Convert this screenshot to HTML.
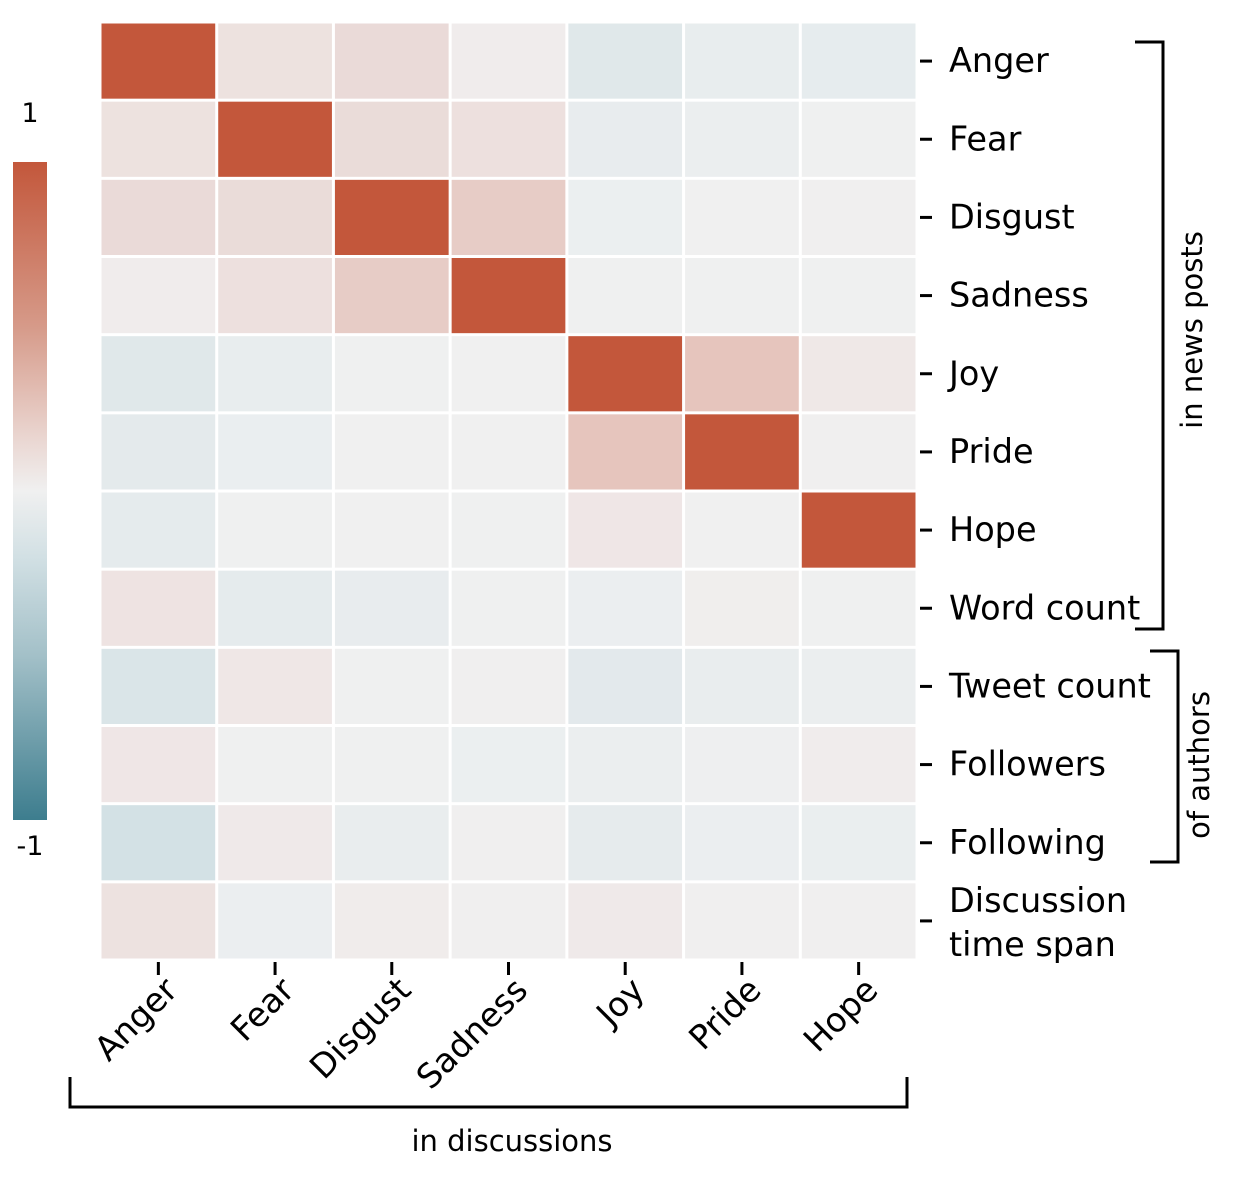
<!DOCTYPE html>
<html><head><meta charset="utf-8"><style>body{margin:0;background:#fff}svg{display:block}text{font-family:"DejaVu Sans","Liberation Sans",sans-serif;fill:#000}</style></head>
<body>
<svg width="1234" height="1178" xmlns="http://www.w3.org/2000/svg">
<defs><linearGradient id="cb" x1="0" y1="0" x2="0" y2="1">
<stop offset="0" stop-color="#c3573b"/><stop offset="0.25" stop-color="#d69a89"/><stop offset="0.42" stop-color="#ead6d1"/><stop offset="0.5" stop-color="#f0f0f0"/><stop offset="0.6" stop-color="#d2e0e4"/><stop offset="0.75" stop-color="#a3c0c8"/><stop offset="1" stop-color="#3d7d8e"/></linearGradient></defs>
<rect x="13" y="162" width="34" height="658" fill="url(#cb)"/>
<text x="30" y="122" font-size="27" text-anchor="middle">1</text>
<text x="30" y="855" font-size="27" text-anchor="middle">-1</text>
<g id="cells"></g>
<g stroke="#000" stroke-width="3" fill="none">
<path d="M1135 42H1163V629H1135"/><path d="M1150 651H1178V862H1150"/><path d="M70 1077V1107H907V1077"/>
</g>
<g font-size="33.5" id="lab"></g>
<text transform="translate(1202,330) rotate(-90)" font-size="29" text-anchor="middle">in news posts</text>
<text transform="translate(1209,765) rotate(-90)" font-size="29" text-anchor="middle">of authors</text>
<text x="512" y="1151" font-size="29" text-anchor="middle">in discussions</text>
</svg>
<script>
var D="#c3573b";
var M=[
[D,"#ede2df","#eadad8","#f0ecec","#e0e8ea","#e8edee","#e6ecee"],
["#ede2df",D,"#eadcd9","#ede0de","#e8ecee","#ebeeef","#eff0f0"],
["#eadad8","#eadcd9",D,"#e7ccc6","#ebeff0","#f0f0f0","#f0efef"],
["#f0ecec","#ede0de","#e7ccc6",D,"#eff0f0","#eff0f0","#eff0f0"],
["#e0e8ea","#e8edee","#eff0f0","#f0f0f0",D,"#e6c5bd","#efe8e7"],
["#e4eaec","#eaeef0","#f0f0f0","#f0f0f0","#e6c5bd",D,"#f0efef"],
["#e5ebed","#eff0f0","#f0f0f0","#eff0f0","#efe6e6","#f0f0f0",D],
["#eee3e2","#e5ebed","#e8ecee","#eff0f0","#ebeef0","#f0eeed","#eff0f0"],
["#dae5e8","#efe7e6","#eff0f0","#f0efef","#e3e9ec","#e9edee","#ebeeef"],
["#efe6e6","#eff0f0","#eff0f0","#ebeff0","#ebeeef","#eeeff0","#f0ecec"],
["#d3e1e5","#efe9e9","#e9edee","#f0efef","#e6ebed","#ebeef0","#eaeeef"],
["#ede2e0","#ebeef0","#f0eceb","#f0efef","#efe9e9","#f0efef","#f0efef"]];
var ns="http://www.w3.org/2000/svg",g=document.getElementById("cells"),L=document.getElementById("lab");
var cw=(917-100)/7,rh=(960-22)/12;
for(var r=0;r<12;r++)for(var c=0;c<7;c++){var e=document.createElementNS(ns,"rect");
e.setAttribute("x",100+c*cw+1.5);e.setAttribute("y",22+r*rh+1.5);e.setAttribute("width",cw-3);e.setAttribute("height",rh-3);e.setAttribute("fill",M[r][c]);g.appendChild(e);}
var rl=["Anger","Fear","Disgust","Sadness","Joy","Pride","Hope","Word count","Tweet count","Followers","Following"];
var h="";
for(var r=0;r<12;r++){var y=22+(r+0.5)*rh;h+='<line x1="920" x2="932" y1="'+y+'" y2="'+y+'" stroke="#000" stroke-width="3"/>';
if(r<11)h+='<text x="949" y="'+(y+11)+'">'+rl[r]+'</text>';}
h+='<text x="949" y="912">Discussion</text><text x="949" y="956">time span</text>';
var cl=["Anger","Fear","Disgust","Sadness","Joy","Pride","Hope"];
for(var c=0;c<7;c++){var x=100+(c+0.5)*cw;h+='<line x1="'+x+'" x2="'+x+'" y1="962" y2="975" stroke="#000" stroke-width="3"/>';
h+='<text transform="translate('+(x+21)+',992) rotate(-45)" text-anchor="end">'+cl[c]+'</text>';}
L.innerHTML=h;
</script>
</body></html>
